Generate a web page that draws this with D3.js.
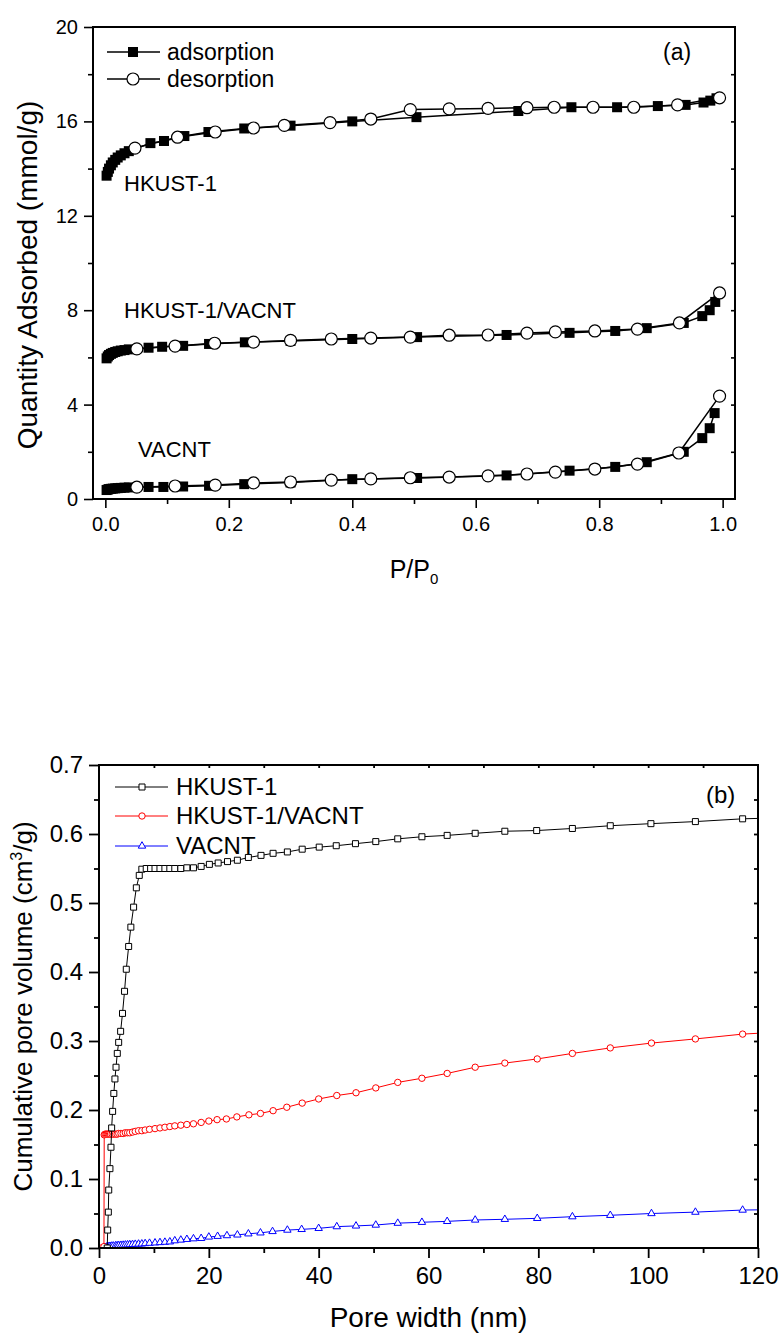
<!DOCTYPE html>
<html>
<head>
<meta charset="utf-8">
<script src="https://cdn.jsdelivr.net/npm/d3@7"></script>
<style>
  body { margin: 0; background: #fff; }
  svg { display: block; font-family: "Liberation Sans", Arial, sans-serif; }
</style>
</head>
<body>
<svg width="781" height="1335"></svg>
<script>
//////////// DATA ////////////

// (a) isotherms: [P/P0, quantity adsorbed mmol/g]
const hkustAds = [[0.002,13.7],[0.004,13.86],[0.006,14.0],[0.009,14.14],[0.012,14.26],[0.016,14.37],[0.02,14.47],[0.025,14.56],[0.031,14.65],[0.038,14.74],
  [0.073,15.08],[0.095,15.17],[0.128,15.38],[0.167,15.55],[0.225,15.7],[0.30,15.82],[0.40,16.0],[0.504,16.18],[0.669,16.44],[0.755,16.6],
  [0.829,16.6],[0.895,16.65],[0.94,16.7],[0.969,16.8],[0.98,16.88],[0.99,16.98]];
const hkustDes = [[0.995,17.0],[0.927,16.7],[0.856,16.6],[0.79,16.6],[0.727,16.6],[0.683,16.58],[0.62,16.55],[0.557,16.53],[0.494,16.5],
  [0.43,16.1],[0.364,15.95],[0.29,15.83],[0.24,15.72],[0.178,15.55],[0.117,15.33],[0.048,14.87]];
const compAds = [[0.002,5.96],[0.004,6.04],[0.006,6.1],[0.009,6.15],[0.012,6.19],[0.016,6.23],[0.02,6.26],[0.025,6.29],[0.031,6.31],[0.038,6.34],
  [0.07,6.41],[0.092,6.45],[0.126,6.49],[0.168,6.57],[0.226,6.64],[0.30,6.7],[0.40,6.78],[0.505,6.86],[0.65,6.95],[0.752,7.04],
  [0.826,7.12],[0.877,7.24],[0.937,7.46],[0.967,7.75],[0.979,8.0],[0.988,8.35]];
const compDes = [[0.995,8.73],[0.93,7.46],[0.862,7.2],[0.793,7.12],[0.729,7.08],[0.683,7.03],[0.62,6.95],[0.557,6.94],[0.494,6.86],
  [0.43,6.82],[0.366,6.78],[0.30,6.72],[0.24,6.65],[0.177,6.6],[0.113,6.48],[0.051,6.36]];
const cntAds = [[0.002,0.38],[0.004,0.4],[0.006,0.42],[0.009,0.43],[0.012,0.44],[0.016,0.45],[0.02,0.46],[0.025,0.47],[0.031,0.48],[0.038,0.49],
  [0.07,0.51],[0.094,0.51],[0.126,0.53],[0.168,0.56],[0.225,0.63],[0.30,0.7],[0.40,0.84],[0.505,0.89],[0.65,1.0],[0.752,1.2],
  [0.826,1.36],[0.877,1.56],[0.937,2.0],[0.967,2.58],[0.979,3.0],[0.987,3.64]];
const cntDes = [[0.995,4.36],[0.929,1.95],[0.862,1.48],[0.793,1.27],[0.729,1.14],[0.683,1.06],[0.62,0.98],[0.557,0.93],[0.494,0.9],
  [0.43,0.85],[0.366,0.8],[0.30,0.72],[0.24,0.68],[0.178,0.59],[0.113,0.55],[0.051,0.5]];

const pTicks = [0, 0.2, 0.4, 0.6, 0.8, 1.0];
const qTicks = [0, 4, 8, 12, 16, 20];

// (b) cumulative pore volume: [pore width nm, cm3/g]
const hkustPore = [[1.5,0.0],[1.58,0.026],[1.7,0.052],[1.77,0.084],[1.99,0.115],[2.18,0.146],[2.3,0.174],[2.48,0.198],[2.7,0.224],[2.9,0.245],
  [3.1,0.262],[3.33,0.282],[3.58,0.298],[3.94,0.314],[4.28,0.34],[4.65,0.372],[4.97,0.404],[5.4,0.437],[5.8,0.465],[6.3,0.494],
  [6.8,0.522],[7.33,0.54],[7.8,0.549],[8.6,0.55],[9.4,0.55],[10.2,0.55],[11.1,0.55],[12.0,0.55],[12.9,0.55],[13.8,0.55],
  [14.9,0.55],[16.0,0.551],[17.2,0.551],[18.6,0.553],[20.1,0.556],[21.7,0.558],[23.4,0.56],[25.2,0.562],[27.2,0.566],[29.5,0.569],
  [31.7,0.572],[34.3,0.574],[37.0,0.578],[40.1,0.581],[43.2,0.583],[46.7,0.586],[50.4,0.589],[54.4,0.593],[58.8,0.596],[63.4,0.598],
  [68.5,0.601],[73.9,0.604],[79.7,0.605],[86.2,0.608],[93.1,0.612],[100.5,0.615],[108.6,0.618],[117.2,0.622],[126.6,0.624]];
const compPore = [[0.4,0.0],[0.9,0.002],[0.95,0.164],[1.1,0.165],[1.3,0.165],[1.5,0.165],[1.7,0.165],[1.9,0.165],[2.1,0.165],[2.4,0.165],
  [2.7,0.165],[3.0,0.165],[3.3,0.165],[3.6,0.166],[4.0,0.166],[4.4,0.166],[4.8,0.167],[5.2,0.167],[5.6,0.167],[6.1,0.168],
  [6.6,0.169],[7.2,0.17],[7.8,0.17],[8.4,0.171],[9.2,0.172],[10.2,0.173],[11.1,0.174],[12.0,0.175],[12.9,0.176],[13.8,0.177],
  [14.9,0.178],[16.0,0.179],[17.2,0.18],[18.6,0.182],[20.0,0.184],[21.5,0.186],[23.2,0.187],[25.1,0.19],[27.3,0.193],[29.4,0.195],
  [31.7,0.199],[34.2,0.204],[37.0,0.21],[40.0,0.216],[43.3,0.221],[46.8,0.225],[50.4,0.232],[54.4,0.24],[58.8,0.246],[63.4,0.253],
  [68.5,0.262],[73.9,0.268],[79.8,0.274],[86.2,0.282],[93.1,0.29],[100.6,0.297],[108.6,0.303],[117.2,0.31],[126.6,0.314]];
const cntPore = [[0.8,0.0],[1.0,0.0005],[1.2,0.001],[1.4,0.0015],[1.6,0.002],[1.8,0.0022],[2.0,0.0025],[2.3,0.0028],[2.6,0.003],[3.0,0.0033],
  [3.3,0.0035],[3.6,0.0037],[4.0,0.004],[4.4,0.0042],[4.8,0.0045],[5.2,0.0047],[5.6,0.005],[6.1,0.0052],[6.6,0.0055],[7.2,0.0058],
  [7.8,0.006],[8.4,0.0065],[9.2,0.007],[10.2,0.0075],[11.1,0.008],[12.0,0.0085],[12.9,0.009],[13.8,0.0106],[14.9,0.0116],[16.0,0.0126],
  [17.2,0.0135],[18.6,0.014],[20.0,0.016],[21.6,0.017],[23.3,0.018],[25.2,0.019],[27.2,0.0206],[29.4,0.022],[31.6,0.024],[34.3,0.026],
  [36.9,0.027],[40.0,0.0285],[43.3,0.031],[46.8,0.032],[50.4,0.0333],[54.4,0.036],[58.8,0.0373],[63.4,0.0386],[68.5,0.0406],[73.9,0.0416],
  [79.8,0.043],[86.2,0.0454],[93.1,0.0474],[100.6,0.05],[108.6,0.052],[117.2,0.055],[126.6,0.056]];

const wTicks = [0, 20, 40, 60, 80, 100, 120];
const vTicks = [0, 0.1, 0.2, 0.3, 0.4, 0.5, 0.6, 0.7];

//////////// SETUP ////////////

const svg = d3.select("svg");
const FONT = '"Liberation Sans", Arial, sans-serif';

// style a d3 axis group: no domain line, black ticks, our font
function styleAxis(g, size, width) {
  g.select(".domain").remove();
  g.attr("font-family", FONT).attr("font-size", size);
  g.selectAll("line").attr("stroke", "#000").attr("stroke-width", width);
  g.selectAll("text").attr("fill", "#000");
}

//////////// PANEL (a) ////////////

const xA = d3.scaleLinear().domain([-0.02, 1.02]).range([93, 735]);
const yA = d3.scaleLinear().domain([0, 20]).range([499, 27]);
const gA = svg.append("g");

gA.append("g").attr("transform", `translate(0,${yA.range()[0]})`)
  .call(d3.axisBottom(xA).tickValues(pTicks).tickFormat(d3.format(".1f")).tickSize(9).tickPadding(9).tickSizeOuter(0))
  .call(g => styleAxis(g, 20, 1.6));
gA.append("g").attr("transform", `translate(0,${yA.range()[0]})`)
  .call(d3.axisBottom(xA).tickValues(d3.range(0.1, 1, 0.2)).tickFormat("").tickSize(5).tickSizeOuter(0))
  .call(g => styleAxis(g, 20, 1.6));
gA.append("g").attr("transform", `translate(${xA.range()[0]},0)`)
  .call(d3.axisLeft(yA).tickValues(qTicks).tickSize(9).tickPadding(6).tickSizeOuter(0))
  .call(g => styleAxis(g, 20, 1.6));
gA.append("g").attr("transform", `translate(${xA.range()[0]},0)`)
  .call(d3.axisLeft(yA).tickValues([2, 6, 10, 14, 18]).tickFormat("").tickSize(5).tickSizeOuter(0))
  .call(g => styleAxis(g, 20, 1.6));
// right side, inward
gA.append("g").attr("transform", `translate(${xA.range()[1]},0)`)
  .call(d3.axisLeft(yA).tickValues(d3.range(2, 20, 2)).tickFormat("").tickSize(4).tickSizeOuter(0))
  .call(g => styleAxis(g, 20, 1.6));

gA.append("rect")
  .attr("x", xA.range()[0]).attr("y", yA.range()[1])
  .attr("width", xA.range()[1] - xA.range()[0]).attr("height", yA.range()[0] - yA.range()[1])
  .attr("fill", "none").attr("stroke", "#000").attr("stroke-width", 2);

const lineA = d3.line().x(d => xA(d[0])).y(d => yA(d[1]));
const SQ = 10, CR = 6;

function drawAds(data) {
  gA.append("path").datum(data).attr("d", lineA)
    .attr("fill", "none").attr("stroke", "#000").attr("stroke-width", 1.5);
  gA.append("g").selectAll("rect").data(data).enter().append("rect")
    .attr("x", d => xA(d[0]) - SQ / 2).attr("y", d => yA(d[1]) - SQ / 2)
    .attr("width", SQ).attr("height", SQ).attr("fill", "#000");
}
function drawDes(data) {
  gA.append("path").datum(data).attr("d", lineA)
    .attr("fill", "none").attr("stroke", "#000").attr("stroke-width", 1.5);
  gA.append("g").selectAll("circle").data(data).enter().append("circle")
    .attr("cx", d => xA(d[0])).attr("cy", d => yA(d[1])).attr("r", CR)
    .attr("fill", "#fff").attr("stroke", "#000").attr("stroke-width", 1.2);
}
[[hkustAds, hkustDes], [compAds, compDes], [cntAds, cntDes]].forEach(([a, d]) => {
  drawAds(a);
  drawDes(d);
});

// legend (a)
const legA = gA.append("g").attr("font-family", FONT).attr("font-size", 23);
[["adsorption", 52, "sq"], ["desorption", 79, "ci"]].forEach(([label, y, m]) => {
  legA.append("line").attr("x1", 107).attr("x2", 160).attr("y1", y).attr("y2", y)
    .attr("stroke", "#000").attr("stroke-width", 1.5);
  if (m === "sq") legA.append("rect").attr("x", 133 - SQ / 2).attr("y", y - SQ / 2).attr("width", SQ).attr("height", SQ);
  else legA.append("circle").attr("cx", 133).attr("cy", y).attr("r", CR).attr("fill", "#fff").attr("stroke", "#000").attr("stroke-width", 1.2);
  legA.append("text").attr("x", 167).attr("y", y + 8).text(label);
});

const labA = gA.append("g").attr("font-family", FONT).attr("font-size", 22);
labA.append("text").attr("x", 124).attr("y", 191).text("HKUST-1");
labA.append("text").attr("x", 124).attr("y", 318).text("HKUST-1/VACNT");
labA.append("text").attr("x", 138).attr("y", 457).text("VACNT");
gA.append("text").attr("x", 663).attr("y", 60).attr("font-family", FONT).attr("font-size", 23).text("(a)");

// axis titles (a)
const px = gA.append("text").attr("x", 414).attr("y", 578).attr("text-anchor", "middle")
  .attr("font-family", FONT).attr("font-size", 25);
px.append("tspan").text("P/P");
px.append("tspan").attr("font-size", 15).attr("dy", 6).text("0");
// title sits a little below the plot centre in the original
gA.append("text").attr("transform", `translate(37,${(yA.range()[0] + yA.range()[1]) / 2 + 12}) rotate(-90)`)
  .attr("text-anchor", "middle").attr("font-family", FONT).attr("font-size", 28)
  .text("Quantity Adsorbed (mmol/g)");

//////////// PANEL (b) ////////////

const xB = d3.scaleLinear().domain([0, 120]).range([99, 758]);
const yB = d3.scaleLinear().domain([0, 0.7]).range([1248, 765]);
const gB = svg.append("g");

gB.append("g").attr("transform", `translate(0,${yB.range()[0]})`)
  .call(d3.axisBottom(xB).tickValues(wTicks).tickSize(10).tickPadding(9).tickSizeOuter(0))
  .call(g => styleAxis(g, 24, 1.8));
gB.append("g").attr("transform", `translate(0,${yB.range()[0]})`)
  .call(d3.axisBottom(xB).tickValues(d3.range(10, 120, 20)).tickFormat("").tickSize(5).tickSizeOuter(0))
  .call(g => styleAxis(g, 24, 1.8));
gB.append("g").attr("transform", `translate(${xB.range()[0]},0)`)
  .call(d3.axisLeft(yB).tickValues(vTicks).tickFormat(d3.format(".1f")).tickSize(10).tickPadding(6).tickSizeOuter(0))
  .call(g => styleAxis(g, 24, 1.8));
gB.append("g").attr("transform", `translate(${xB.range()[0]},0)`)
  .call(d3.axisLeft(yB).tickValues([0.05, 0.15, 0.25, 0.35, 0.45, 0.55, 0.65]).tickFormat("").tickSize(5).tickSizeOuter(0))
  .call(g => styleAxis(g, 24, 1.8));
// top and right, inward
gB.append("g").attr("transform", `translate(0,${yB.range()[1]})`)
  .call(d3.axisBottom(xB).tickValues(d3.range(10, 120, 10)).tickFormat("").tickSize(3).tickSizeOuter(0))
  .call(g => styleAxis(g, 24, 1.8));
gB.append("g").attr("transform", `translate(${xB.range()[1]},0)`)
  .call(d3.axisLeft(yB).tickValues([0.05, 0.1, 0.15, 0.2, 0.25, 0.3, 0.35, 0.4, 0.45, 0.5, 0.55, 0.6, 0.65]).tickFormat("").tickSize(4).tickSizeOuter(0))
  .call(g => styleAxis(g, 24, 1.8));

gB.append("clipPath").attr("id", "clipB").append("rect")
  .attr("x", xB.range()[0]).attr("y", yB.range()[1])
  .attr("width", xB.range()[1] - xB.range()[0]).attr("height", yB.range()[0] - yB.range()[1]);

const lineB = d3.line().x(d => xB(d[0])).y(d => yB(d[1]));
const plotB = gB.append("g").attr("clip-path", "url(#clipB)");
const TRI = d3.symbol(d3.symbolTriangle, 24);

function drawPore(data, color, marker) {
  plotB.append("path").datum(data).attr("d", lineB)
    .attr("fill", "none").attr("stroke", color).attr("stroke-width", 1);
  plotB.append("g").selectAll("path").data(data).enter().append("path")
    .attr("transform", d => `translate(${xB(d[0])},${yB(d[1])})`)
    .attr("d", marker).attr("fill", "#fff").attr("stroke", color).attr("stroke-width", 1);
}
const squareB = "M-3,-3H3V3H-3Z";
const circleB = d3.symbol(d3.symbolCircle, Math.PI * 3.2 * 3.2)();
drawPore(cntPore, "#0000ff", TRI());
drawPore(compPore, "#ff0000", circleB);
drawPore(hkustPore, "#000", squareB);

gB.append("rect")
  .attr("x", xB.range()[0]).attr("y", yB.range()[1])
  .attr("width", xB.range()[1] - xB.range()[0]).attr("height", yB.range()[0] - yB.range()[1])
  .attr("fill", "none").attr("stroke", "#000").attr("stroke-width", 2);

// legend (b)
const legB = gB.append("g").attr("font-family", FONT).attr("font-size", 24);
[["HKUST-1", 787, "#000", squareB], ["HKUST-1/VACNT", 816, "#ff0000", circleB], ["VACNT", 846, "#0000ff", TRI()]]
  .forEach(([label, y, color, m]) => {
    legB.append("line").attr("x1", 115).attr("x2", 168).attr("y1", y).attr("y2", y)
      .attr("stroke", color).attr("stroke-width", 1);
    legB.append("path").attr("transform", `translate(142,${y})`).attr("d", m)
      .attr("fill", "#fff").attr("stroke", color).attr("stroke-width", 1);
    legB.append("text").attr("x", 176).attr("y", y + 8).text(label);
  });
gB.append("text").attr("x", 706).attr("y", 803).attr("font-family", FONT).attr("font-size", 24).text("(b)");

// axis titles (b)
gB.append("text").attr("x", (xB.range()[0] + xB.range()[1]) / 2).attr("y", 1327).attr("text-anchor", "middle")
  .attr("font-family", FONT).attr("font-size", 28).text("Pore width (nm)");
const vy = gB.append("text").attr("transform", `translate(32,${(yB.range()[0] + yB.range()[1]) / 2}) rotate(-90)`)
  .attr("text-anchor", "middle").attr("font-family", FONT).attr("font-size", 26);
vy.append("tspan").text("Cumulative pore volume (cm");
vy.append("tspan").attr("font-size", 16).attr("dy", -10).text("3");
vy.append("tspan").attr("dy", 10).text("/g)");
</script>
</body>
</html>
